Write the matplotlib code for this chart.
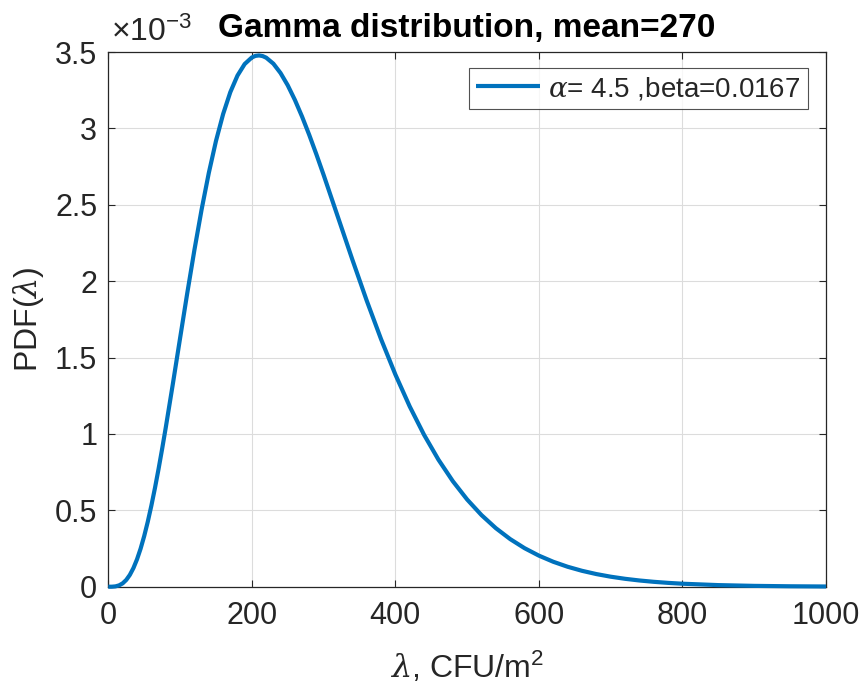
import matplotlib
matplotlib.use("Agg")
import matplotlib.pyplot as plt
from matplotlib.ticker import FuncFormatter

# Values (lambda, PDF)
lam = [0, 5, 10, 15, 20, 25, 30, 35, 40, 45, 50, 55, 60, 65, 70, 75, 80, 90,
       100, 110, 120, 130, 140, 150, 160, 170, 180, 190, 200, 205, 210, 215,
       220, 230, 240, 250, 260, 270, 280, 290, 300, 320, 340, 360, 380, 400,
       420, 440, 460, 480, 500, 520, 540, 560, 580, 600, 620, 640, 660, 680,
       700, 720, 740, 760, 780, 800, 850, 900, 950, 1000]
pdf = [0.0, 2.2e-7, 2.31e-6, 8.79e-6, 2.21e-5, 4.447e-5, 7.74e-5, 1.2217e-4,
       1.793e-4, 2.4914e-4, 3.314e-4, 4.2556e-4, 5.308e-4, 6.461e-4,
       7.704e-4, 9.023e-4, 1.0403e-3, 1.3295e-3, 1.6267e-3, 1.9216e-3,
       2.2049e-3, 2.4691e-3, 2.7078e-3, 2.9173e-3, 3.0943e-3, 3.2374e-3,
       3.3460e-3, 3.4214e-3, 3.4645e-3, 3.4747e-3, 3.4777e-3, 3.4736e-3,
       3.4631e-3, 3.4238e-3, 3.3624e-3, 3.2823e-3, 3.1863e-3, 3.0770e-3,
       2.9572e-3, 2.8294e-3, 2.6957e-3, 2.4192e-3, 2.1420e-3, 1.8736e-3,
       1.6211e-3, 1.3890e-3, 1.1798e-3, 9.942e-4, 8.317e-4, 6.912e-4,
       5.709e-4, 4.690e-4, 3.833e-4, 3.117e-4, 2.5235e-4, 2.0347e-4,
       1.634e-4, 1.3075e-4, 1.0427e-4, 8.289e-5, 6.569e-5, 5.192e-5,
       4.091e-5, 3.216e-5, 2.522e-5, 1.973e-5, 1.0586e-5, 5.61e-6, 2.94e-6,
       1.527e-6]

series_label = r"$\alpha$= 4.5 ,beta=0.0167"
title = "Gamma distribution, mean=270"
xlabel = r"$\lambda$, CFU/m$^2$"
ylabel = r"PDF($\lambda$)"
xticks = [0, 200, 400, 600, 800, 1000]
yticks = [0, 0.5e-3, 1e-3, 1.5e-3, 2e-3, 2.5e-3, 3e-3, 3.5e-3]

plt.rcParams['font.family'] = ['Liberation Sans', 'DejaVu Sans']
plt.rcParams['mathtext.fontset'] = 'custom'
plt.rcParams['mathtext.rm'] = 'Liberation Sans'
plt.rcParams['mathtext.it'] = 'DejaVu Serif:italic'

axc = '#262626'
fig = plt.figure(figsize=(8.63, 6.91), dpi=100)
ax = fig.add_axes([0.1255, 0.1509, 0.8316, 0.7738])

ax.plot(lam, pdf, color='#0072BD', lw=3.0, label=series_label,
        solid_joinstyle='round', solid_capstyle='butt', clip_on=False,
        zorder=3)

ax.set_xlim(0, 1000)
ax.set_ylim(0, 3.5e-3)
ax.set_xticks(xticks)
ax.set_yticks(yticks)
ax.yaxis.set_major_formatter(FuncFormatter(lambda v, p: f"{v*1e3:g}"))
ax.grid(True, color='#dcdcdc', lw=0.8)
ax.set_axisbelow(True)
for s in ax.spines.values():
    s.set_color(axc)
    s.set_linewidth(0.9)
ax.tick_params(direction='in', length=5, width=0.8, colors=axc,
               labelsize=22, top=True, right=True)
ax.tick_params(axis='x', pad=10)
ax.tick_params(axis='y', pad=8)
for lbl in ax.get_xticklabels() + ax.get_yticklabels():
    lbl.set_color(axc)

ax.text(0.004, 1.008, r"$\times$10$^{-3}$", transform=ax.transAxes,
        fontsize=23, color=axc, ha='left', va='bottom')

ax.set_title(title, fontsize=24, fontweight='bold', pad=11, color='black')
ax.set_xlabel(xlabel, fontsize=23, color=axc, labelpad=14)
ax.set_ylabel(ylabel, fontsize=23, color=axc, labelpad=6)

leg = ax.legend(loc='upper right', fontsize=20, frameon=True, fancybox=False,
                edgecolor=axc, handlelength=2.3, borderpad=0.25,
                handletextpad=0.3, borderaxespad=0,
                bbox_to_anchor=(0.9745, 0.970))
leg.get_frame().set_linewidth(0.8)
for t in leg.get_texts():
    t.set_color(axc)

fig.savefig('out.png', dpi=100)
